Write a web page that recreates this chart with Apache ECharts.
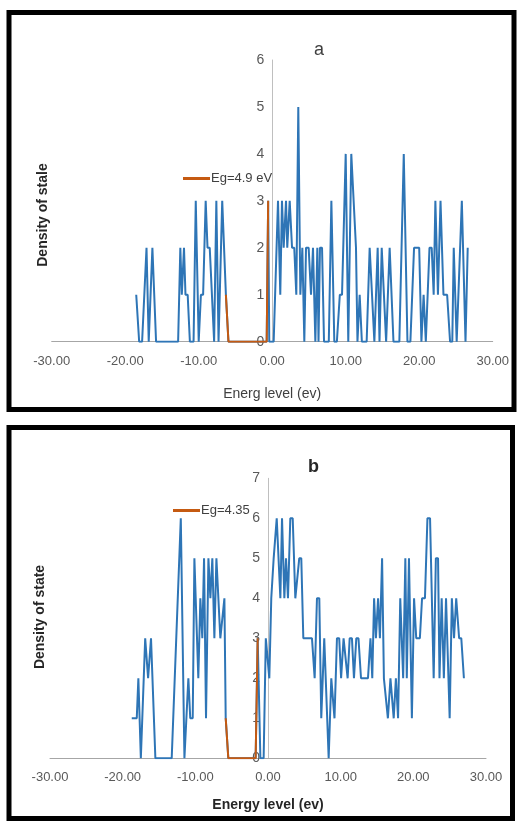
<!DOCTYPE html>
<html>
<head>
<meta charset="utf-8">
<script src="https://cdn.jsdelivr.net/npm/echarts@6/dist/echarts.min.js"></script>
<style>
html,body{margin:0;padding:0;background:#fff;}
#c{width:517px;height:821px;}
</style>
</head>
<body>
<div id="c"></div>
<script>
// ---- Panel a data (vertices) ----
const aX = [-18.5,-18.1,-17.7,-17.1,-16.8,-16.3,-15.8,-12.8,-12.5,-12.3,-12.0,-11.8,-11.5,-11.2,-10.7,-10.4,-10.0,-9.7,-9.4,-9.05,-8.8,-8.5,-7.9,-7.6,-7.3,-6.8,-6.3,-5.95,-0.75,-0.55,-0.4,0.2,0.79,1.1,1.33,1.56,1.88,2.05,2.38,2.7,3.0,3.28,3.55,3.83,4.1,4.37,4.6,4.96,5.28,5.55,5.87,6.14,6.3,6.5,6.78,7.05,7.7,8.05,8.45,8.8,9.2,9.5,10.0,10.35,10.76,11.4,11.6,11.9,12.2,12.85,13.26,13.9,14.08,14.35,14.6,14.9,15.17,15.5,15.98,16.5,17.3,17.9,18.4,18.8,19.3,20.0,20.3,20.6,20.9,21.4,21.7,21.97,22.2,22.55,22.9,23.1,23.3,23.8,24.2,24.5,24.7,25.1,25.8,26.3,26.6];
const aY = [1,0,0,2,0,2,0,0,2,1,2,1,1,0,0,3,0,1,1,3,2,2,0,3,0,3,1,0,0,3,0,0,3,1,3,2,3,2,3,2,2,1,5,1,2,0,2,2,1,2,0,2,0,2,2,0,0,3,0,0,1,1,4,0,4,2,0,1,0,0,2,0,0,2,0,2,2,0,2,0,0,4,0,0,2,2,0,1,0,2,2,1,3,1,3,3,1,1,0,0,2,0,3,0,2];
const aGapX = [-6.3,-5.95,-0.75,-0.55];
const aGapY = [1,0,0,3];

// ---- Panel b data (vertices) ----
const bX = [-18.75,-18.06,-17.84,-17.5,-16.9,-16.7,-16.5,-16.1,-15.5,-13.25,-12.0,-11.5,-10.96,-10.7,-10.36,-10.13,-9.59,-9.31,-9.04,-8.8,-8.53,-8.2,-7.93,-7.66,-7.38,-7.1,-6.56,-6.29,-6.0,-5.82,-5.46,-1.7,-1.42,-1.05,-0.6,-0.3,-0.14,0.18,0.45,0.78,1.0,1.2,1.47,1.7,1.93,2.25,2.48,2.75,3.07,3.4,3.76,4.03,4.3,4.58,4.86,6.05,6.42,6.74,7.06,7.33,7.74,8.35,8.71,8.87,9.15,9.49,9.8,10.06,10.4,10.6,10.96,11.24,11.55,11.83,12.15,12.45,12.8,13.76,14.1,14.35,14.6,14.85,15.15,15.4,15.7,15.95,16.2,16.5,16.85,17.3,17.6,17.9,18.2,18.6,18.9,19.1,19.4,19.8,20.1,20.4,20.9,21.2,21.6,21.94,22.3,22.8,23.1,23.4,23.6,23.9,24.2,24.5,25.0,25.3,25.6,25.9,26.3,26.6,26.96];
const bY = [1,1,2,0,3,3,2,3,0,0,6,0,2,1,1,5,2,4,3,5,1,5,4,5,3,5,3,3,4,1,0,0,3,0,0,3,3,2,4,5,5,6,6,4,6,4,5,4,6,6,4,4,5,5,3,3,2,4,4,1,3,0,2,2,1,3,3,2,3,3,2,3,3,2,3,3,2,2,3,2,4,3,4,3,5,2,2,1,2,1,2,1,4,2,5,2,5,1,4,3,3,4,4,6,6,2,5,5,2,4,2,4,1,4,3,4,3,3,2];
const bGapX = [-5.82,-5.46,-1.7,-1.42];
const bGapY = [1,0,0,3];

// ---- Axis ticks / labels ----
const xTicks = [-30,-20,-10,0,10,20,30];
const aYMax = 6, bYMax = 7;
const titles = ['a','b'];
const xNames = ['Energ level (ev)','Energy level (ev)'];
const yNames = ['Density of stale','Density of state'];
const gapNames = ['Eg=4.9 eV','Eg=4.35'];

const zip = (xs, ys) => xs.map((x, i) => [x, ys[i]]);
const BLUE = '#2E75B6', RED = '#C55A11';
const FONT = '"Liberation Sans", Arial, sans-serif';

const grids = [
  {left: 51.7, top: 60, width: 441, height: 281.7},
  {left: 50, top: 478.3, width: 436, height: 280}
];
// distance from grid left edge to x = 0 (so the y axis crosses at zero like the original)
const zeroOffset = g => g.width * (0 - xTicks[0]) / (xTicks[xTicks.length-1] - xTicks[0]);

const chart = echarts.init(document.getElementById('c'), null, {renderer: 'canvas'});

function xAxisCfg(gi, name, bold, gap) {
  return {
    type: 'value', gridIndex: gi, min: xTicks[0], max: xTicks[xTicks.length-1], interval: 10,
    axisLine: {show: true, onZero: false, lineStyle: {color: '#a6a6a6', width: 1}},
    axisTick: {show: false}, splitLine: {show: false},
    axisLabel: {formatter: v => v.toFixed(2), color: '#595959', fontSize: 13, fontFamily: FONT, margin: 13},
    name: name, nameLocation: 'middle', nameGap: gap,
    nameTextStyle: {color: bold ? '#262626' : '#404040', fontSize: 14, fontWeight: bold ? 'bold' : 'normal', fontFamily: FONT}
  };
}
function yAxisCfg(gi, max) {
  return {
    type: 'value', gridIndex: gi, min: 0, max: max, interval: 1, position: 'left',
    offset: -zeroOffset(grids[gi]),
    axisLine: {show: true, onZero: false, lineStyle: {color: '#bfbfbf', width: 1}},
    axisTick: {show: false}, splitLine: {show: false},
    axisLabel: {color: '#595959', fontSize: 14, fontFamily: FONT, margin: 8}
  };
}

const option = {
  backgroundColor: '#ffffff',
  animation: false,
  title: [
    {text: titles[0], left: 309, top: 36, textStyle: {fontSize: 18, fontWeight: 'normal', color: '#404040', fontFamily: FONT}},
    {text: titles[1], left: 303, top: 453, textStyle: {fontSize: 18, fontWeight: 'bold', color: '#262626', fontFamily: FONT}}
  ],
  legend: [
    {data: [gapNames[0]], left: 178, top: 167, itemWidth: 27, itemHeight: 3, itemGap: 0, icon: 'rect',
     textStyle: {fontSize: 13, color: '#404040', fontFamily: FONT, padding: [0,0,0,-4]}},
    {data: [gapNames[1]], left: 168, top: 499, itemWidth: 27, itemHeight: 3, itemGap: 0, icon: 'rect',
     textStyle: {fontSize: 13, color: '#404040', fontFamily: FONT, padding: [0,0,0,-4]}}
  ],
  grid: grids,
  xAxis: [xAxisCfg(0, xNames[0], false, 45), xAxisCfg(1, xNames[1], true, 40)],
  yAxis: [yAxisCfg(0, aYMax), yAxisCfg(1, bYMax)],
  series: [
    {name: 'DOS a', type: 'line', xAxisIndex: 0, yAxisIndex: 0, data: zip(aX, aY), showSymbol: false, symbol: 'none',
     lineStyle: {color: BLUE, width: 2}, itemStyle: {color: BLUE}},
    {name: gapNames[0], type: 'line', xAxisIndex: 0, yAxisIndex: 0, data: zip(aGapX, aGapY), showSymbol: false, symbol: 'none',
     lineStyle: {color: RED, width: 2}, itemStyle: {color: RED}},
    {name: 'DOS b', type: 'line', xAxisIndex: 1, yAxisIndex: 1, data: zip(bX, bY), showSymbol: false, symbol: 'none',
     lineStyle: {color: BLUE, width: 2}, itemStyle: {color: BLUE}},
    {name: gapNames[1], type: 'line', xAxisIndex: 1, yAxisIndex: 1, data: zip(bGapX, bGapY), showSymbol: false, symbol: 'none',
     lineStyle: {color: RED, width: 2}, itemStyle: {color: RED}}
  ],
  graphic: [
    {type: 'rect', shape: {x: 9, y: 12.5, width: 505, height: 397}, style: {fill: null, stroke: '#000', lineWidth: 5}, silent: true},
    {type: 'rect', shape: {x: 9, y: 427.5, width: 503.5, height: 391}, style: {fill: null, stroke: '#000', lineWidth: 5}, silent: true},
    {type: 'text', x: 43, y: 215, rotation: Math.PI/2, style: {text: yNames[0], fill: '#262626', font: 'bold 14px ' + FONT, textAlign: 'center', textVerticalAlign: 'middle'}},
    {type: 'text', x: 40, y: 617, rotation: Math.PI/2, style: {text: yNames[1], fill: '#262626', font: 'bold 14px ' + FONT, textAlign: 'center', textVerticalAlign: 'middle'}}
  ]
};
chart.setOption(option);
</script>
</body>
</html>
